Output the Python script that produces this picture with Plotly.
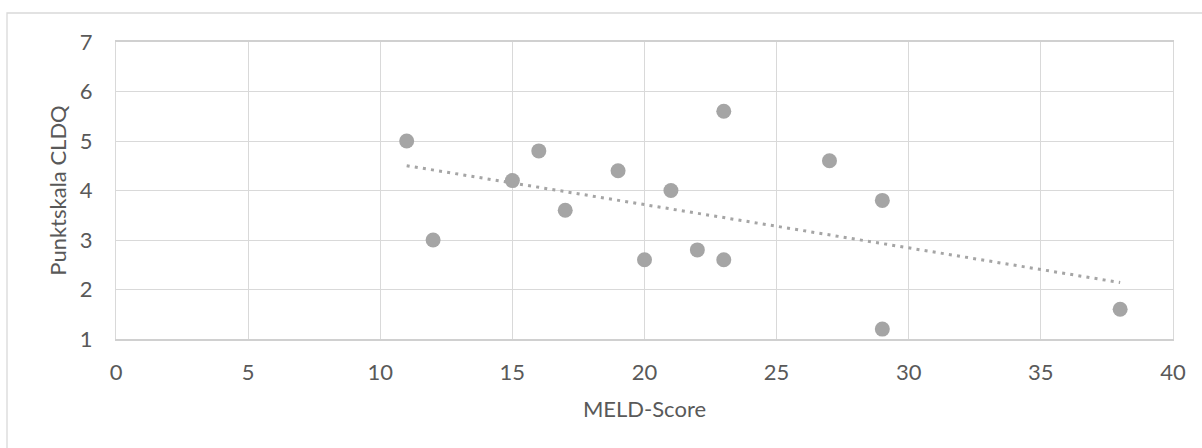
import numpy as np
import plotly.graph_objects as go

meld_score = [11, 12, 15, 16, 17, 19, 20, 21, 22, 23, 23, 27, 29, 29, 38]
cldq_score = [5.0, 3.0, 4.2, 4.8, 3.6, 4.4, 2.6, 4.0, 2.8, 5.6, 2.6, 4.6, 3.8, 1.2, 1.6]
x_ticks = [0, 5, 10, 15, 20, 25, 30, 35, 40]
y_ticks = [1, 2, 3, 4, 5, 6, 7]

W, H = 1202, 448
L, R, T, B = 116, 1173, 42, 339

slope, intercept = np.polyfit(meld_score, cldq_score, 1)
tx = [min(meld_score), max(meld_score)]
ty = [slope * v + intercept for v in tx]

FONT = "Lato"
FS = 22
TXT = "#595959"
GRID = "#D9D9D9"
MC = "#A5A5A5"

fig = go.Figure()
fig.add_trace(go.Scatter(x=meld_score, y=cldq_score, mode="markers",
                         marker=dict(size=15, color=MC, line=dict(width=0)),
                         showlegend=False, hoverinfo="x+y"))
fig.add_trace(go.Scatter(x=tx, y=ty, mode="lines",
                         line=dict(color=MC, width=3, dash="3px,5.2px"),
                         showlegend=False, hoverinfo="skip"))

pw, ph = R - L, B - T
fig.add_shape(type="rect", xref="paper", yref="paper",
              x0=(7 - L) / pw, x1=(W + 20 - L) / pw,
              y0=(B - (H + 20)) / ph, y1=(B - 13) / ph,
              line=dict(color=GRID, width=1.3), fillcolor="rgba(0,0,0,0)", layer="below")

fig.update_layout(
    width=W, height=H,
    margin=dict(l=L, r=W - R, t=T, b=H - B, pad=0),
    paper_bgcolor="white", plot_bgcolor="white",
    font=dict(family=FONT, size=FS, color=TXT),
    xaxis=dict(range=[0, 40], tickvals=x_ticks, ticktext=[str(v) for v in x_ticks],
               showgrid=True, gridcolor=GRID, gridwidth=1.3,
               showline=True, linecolor="#D0D0D0", linewidth=1.5, mirror=True,
               zeroline=False, ticks="", ticklabelstandoff=13,
               tickfont=dict(family=FONT, size=FS, color=TXT),
               title=dict(text="MELD-Score", font=dict(family=FONT, size=FS, color=TXT), standoff=17)),
    yaxis=dict(range=[1, 7], tickvals=y_ticks, ticktext=[str(v) for v in y_ticks],
               showgrid=True, gridcolor=GRID, gridwidth=1.3,
               showline=True, linecolor=GRID, linewidth=1.3, mirror=True,
               zeroline=False, ticks="", ticklabelstandoff=18,
               tickfont=dict(family=FONT, size=FS, color=TXT),
               title=dict(text="Punktskala CLDQ", font=dict(family=FONT, size=FS, color=TXT), standoff=6)),
)

fig.write_html("out.html")
